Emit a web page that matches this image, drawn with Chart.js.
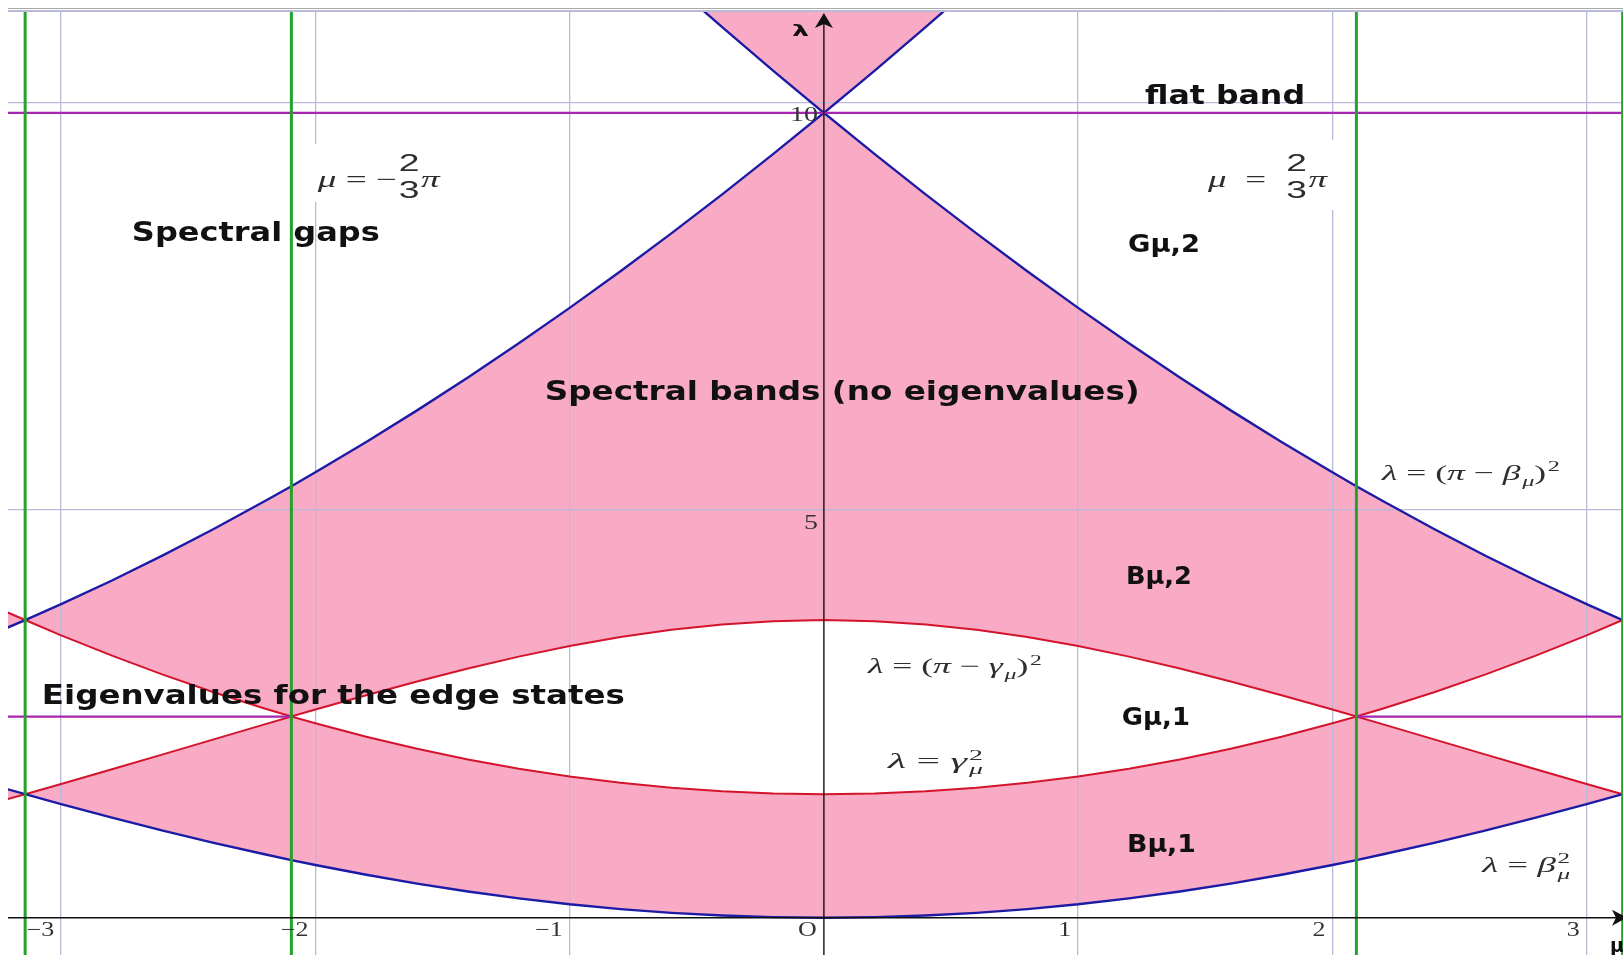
<!DOCTYPE html>
<html>
<head>
<meta charset="utf-8">
<title>Spectral bands and gaps</title>
<script src="https://cdn.jsdelivr.net/npm/chart.js@4.4.1/dist/chart.umd.min.js"></script>
<style>
  html, body { margin: 0; padding: 0; background: #fff; }
  #wrap { position: relative; width: 1623px; height: 955px; }
</style>
</head>
<body>
<div id="wrap"><canvas id="spectrum"></canvas></div>
<script>
// quasi-momentum samples and the band edges read at each of them
var muSamples = [-3.21, -3.1416, -3.0, -2.8, -2.6, -2.4, -2.2, -2.0944, -2.0, -1.8, -1.6, -1.4, -1.2, -1.0, -0.8, -0.6, -0.4, -0.2, 0,
                 0.2, 0.4, 0.6, 0.8, 1.0, 1.2, 1.4, 1.6, 1.8, 2.0, 2.0944, 2.2, 2.4, 2.6, 2.8, 3.0, 3.1416, 3.21];
// lambda = beta_mu^2
var betaSq = [1.575, 1.515, 1.394, 1.227, 1.069, 0.918, 0.778, 0.707, 0.647, 0.527, 0.419, 0.322, 0.238, 0.165, 0.106, 0.060, 0.027, 0.007, 0,
              0.007, 0.027, 0.060, 0.106, 0.165, 0.238, 0.322, 0.419, 0.527, 0.647, 0.707, 0.778, 0.918, 1.069, 1.227, 1.394, 1.515, 1.575];
// lambda = (pi - beta_mu)^2
var piMinusBetaSq = [3.559, 3.650, 3.846, 4.136, 4.443, 4.767, 5.107, 5.292, 5.463, 5.835, 6.222, 6.626, 7.045, 7.479, 7.928, 8.393, 8.871, 9.364, 9.870,
                     9.364, 8.871, 8.393, 7.928, 7.479, 7.045, 6.626, 6.222, 5.835, 5.463, 5.292, 5.107, 4.767, 4.443, 4.136, 3.846, 3.650, 3.559];
// lower / upper edge of the gap G(mu,1) (the two red curves gamma^2 and (pi-gamma)^2)
var gapLow = [1.456, 1.515, 1.640, 1.820, 2.003, 2.187, 2.371, 2.467, 2.384, 2.219, 2.072, 1.941, 1.828, 1.733, 1.654, 1.594, 1.550, 1.524, 1.515,
              1.524, 1.550, 1.594, 1.654, 1.733, 1.828, 1.941, 2.072, 2.219, 2.384, 2.467, 2.371, 2.187, 2.003, 1.820, 1.640, 1.515, 1.456];
var gapHigh = [3.744, 3.651, 3.463, 3.214, 2.981, 2.765, 2.566, 2.467, 2.553, 2.729, 2.898, 3.057, 3.202, 3.332, 3.442, 3.531, 3.597, 3.637, 3.650,
               3.637, 3.597, 3.531, 3.442, 3.332, 3.202, 3.057, 2.898, 2.729, 2.553, 2.467, 2.566, 2.765, 2.981, 3.214, 3.463, 3.651, 3.744];
// next band opening above the flat band: lambda = (pi + beta_mu)^2
var muTop = [-0.6, -0.4, -0.2, 0, 0.2, 0.4, 0.6];
var piPlusBetaSq = [11.466, 10.922, 10.389, 9.870, 10.389, 10.922, 11.466];

var greenMu = [-3.1416, -2.0944, 2.0944, 3.1416];
var flatBandLam = 9.870;
var edgeLam = 2.467;
var edgeMu = [-3.21, -2.0944, 2.0944, 3.21];

var gridMu = [-3, -2, -1, 1, 2, 3];
var gridLam = [5, 10];
var tickMu = [-3, -2, -1, 0, 1, 2, 3];
var tickMuText = ['\u22123', '\u22122', '\u22121', 'O', '1', '2', '3'];
var tickLam = [5, 10];
var tickLamText = ['5', '10'];

var muMin = -3.209, muMax = 3.143, lamMin = -0.457, lamMax = 11.132;

var PINK = '#f9aac5', BLUE = '#1b1ba6', RED = '#d3142c', GREEN = '#25a22d', PURPLE = '#a824b2', GRID = '#b9b9dc';

function pts(xs, ys) {
    return xs.map(function (x, i) { return {x: x, y: ys[i]}; });
}

// bold captions, anchored at (mu, lambda) of their left baseline, w = drawn width in px
var notes = [
    {text: 'flat band', mu: 1.263, lam: 9.979, w: 160, size: 27},
    {text: 'Spectral gaps', mu: -2.722, lam: 8.299, w: 248, size: 27},
    {text: 'G\u03bc,2', mu: 1.196, lam: 8.164, w: 72, size: 25},
    {text: 'Spectral bands (no eigenvalues)', mu: -1.098, lam: 6.349, w: 595, size: 27},
    {text: 'B\u03bc,2', mu: 1.188, lam: 4.093, w: 66, size: 24},
    {text: 'Eigenvalues for the edge states', mu: -3.076, lam: 2.621, w: 583, size: 27},
    {text: 'G\u03bc,1', mu: 1.172, lam: 2.363, w: 68, size: 24},
    {text: 'B\u03bc,1', mu: 1.192, lam: 0.806, w: 69, size: 24}
];

var formulas = [
    {mu: -1.991, lam: 8.961, w: 122, size: 23, box: [-12, -43, 150, 58],
     runs: [{k: 'i', t: '\u03bc'}, {k: 'r', t: ' = \u2212'}, {k: 'frac', num: '2', den: '3'}, {k: 'i', t: '\u03c0'}]},
    {mu: 1.511, lam: 8.961, w: 119, size: 23, box: [-12, -47, 140, 70],
     runs: [{k: 'i', t: '\u03bc'}, {k: 'r', t: '  =  '}, {k: 'frac', num: '2', den: '3'}, {k: 'i', t: '\u03c0'}]},
    {mu: 2.195, lam: 5.368, w: 178, size: 22,
     runs: [{k: 'i', t: '\u03bb'}, {k: 'r', t: ' = ('}, {k: 'i', t: '\u03c0'}, {k: 'r', t: ' \u2212 '}, {k: 'i', t: '\u03b2'},
            {k: 'sub', t: '\u03bc'}, {k: 'r', t: ')'}, {k: 'sup', t: '2'}]},
    {mu: 0.173, lam: 3.001, w: 174, size: 21,
     runs: [{k: 'i', t: '\u03bb'}, {k: 'r', t: ' = ('}, {k: 'i', t: '\u03c0'}, {k: 'r', t: ' \u2212 '}, {k: 'i', t: '\u03b3'},
            {k: 'sub', t: '\u03bc'}, {k: 'r', t: ')'}, {k: 'sup', t: '2'}]},
    {mu: 0.252, lam: 1.836, w: 95, size: 21,
     runs: [{k: 'i', t: '\u03bb'}, {k: 'r', t: ' = '}, {k: 'i', t: '\u03b3'}, {k: 'subsup', sub: '\u03bc', sup: '2'}]},
    {mu: 2.589, lam: 0.561, w: 88, size: 22,
     runs: [{k: 'i', t: '\u03bb'}, {k: 'r', t: ' = '}, {k: 'i', t: '\u03b2'}, {k: 'subsup', sub: '\u03bc', sup: '2'}]}
];

function stretchText(ctx, text, x, y, w) {
    var nat = ctx.measureText(text).width;
    ctx.save();
    ctx.translate(x, y);
    ctx.scale(w / nat, 1);
    ctx.fillText(text, 0, 0);
    ctx.restore();
}

function drawFormula(ctx, runs, x, y, w, size) {
    var small = Math.round(size * 0.68);
    var fonts = {
        i: 'italic ' + size + 'px "Liberation Serif"',
        r: size + 'px "Liberation Serif"',
        si: 'italic ' + small + 'px "Liberation Serif"',
        sr: small + 'px "Liberation Serif"',
        f: size + 'px "Liberation Sans"'
    };
    function width(r) {
        if (r.k === 'frac') {
            ctx.font = fonts.f;
            return Math.max(ctx.measureText(r.num).width, ctx.measureText(r.den).width) + 2;
        }
        if (r.k === 'sub') { ctx.font = fonts.si; return ctx.measureText(r.t).width + 1; }
        if (r.k === 'sup') { ctx.font = fonts.sr; return ctx.measureText(r.t).width + 1; }
        if (r.k === 'subsup') {
            ctx.font = fonts.si;
            var a = ctx.measureText(r.sub).width;
            ctx.font = fonts.sr;
            return Math.max(a, ctx.measureText(r.sup).width) + 1;
        }
        ctx.font = fonts[r.k];
        return ctx.measureText(r.t).width;
    }
    var total = 0;
    runs.forEach(function (r) { total += width(r); });
    ctx.save();
    ctx.translate(x, y);
    ctx.scale(w / total, 1);
    var cx = 0;
    runs.forEach(function (r) {
        var rw = width(r);
        if (r.k === 'frac') {
            ctx.font = fonts.f;
            ctx.textAlign = 'center';
            ctx.fillText(r.num, cx + rw / 2, -size * 0.7);
            ctx.fillText(r.den, cx + rw / 2, size * 0.46);
            ctx.textAlign = 'left';
        } else if (r.k === 'sub') {
            ctx.font = fonts.si;
            ctx.fillText(r.t, cx + 1, size * 0.28);
        } else if (r.k === 'sup') {
            ctx.font = fonts.sr;
            ctx.fillText(r.t, cx + 1, -size * 0.4);
        } else if (r.k === 'subsup') {
            ctx.font = fonts.sr;
            ctx.fillText(r.sup, cx + 1, -size * 0.4);
            ctx.font = fonts.si;
            ctx.fillText(r.sub, cx + 1, size * 0.3);
        } else {
            ctx.font = fonts[r.k];
            ctx.fillText(r.t, cx, 0);
        }
        cx += rw;
    });
    ctx.restore();
}

// axes, tick labels, captions
var decor = {
    id: 'decor',
    afterDatasetsDraw: function (chart) {
        var ctx = chart.ctx, a = chart.chartArea;
        var xs = chart.scales.x, ys = chart.scales.y;
        var X = function (v) { return xs.getPixelForValue(v); };
        var Y = function (v) { return ys.getPixelForValue(v); };
        var x0 = X(0), y0 = Y(0);

        ctx.save();
        ctx.textBaseline = 'alphabetic';

        // frame along the top
        ctx.strokeStyle = '#a8a8a8';
        ctx.lineWidth = 1;
        ctx.beginPath();
        ctx.moveTo(a.left, a.top - 1.5);
        ctx.lineTo(a.right, a.top - 1.5);
        ctx.stroke();
        ctx.strokeStyle = GRID;
        ctx.lineWidth = 2;
        ctx.beginPath();
        ctx.moveTo(a.left, a.top + 1);
        ctx.lineTo(a.right, a.top + 1);
        ctx.stroke();

        // axes with arrows
        ctx.strokeStyle = '#111';
        ctx.fillStyle = '#111';
        ctx.lineWidth = 1.4;
        ctx.beginPath();
        ctx.moveTo(a.left, y0);
        ctx.lineTo(a.right, y0);
        ctx.moveTo(x0, a.bottom);
        ctx.lineTo(x0, a.top + 10);
        ctx.stroke();
        ctx.beginPath();
        ctx.moveTo(x0, a.top + 3);
        ctx.lineTo(x0 - 9, a.top + 18);
        ctx.lineTo(x0, a.top + 14);
        ctx.lineTo(x0 + 9, a.top + 18);
        ctx.closePath();
        ctx.fill();
        var tip = a.right + 4;
        ctx.beginPath();
        ctx.moveTo(tip, y0);
        ctx.lineTo(tip - 15, y0 - 8);
        ctx.lineTo(tip - 11, y0);
        ctx.lineTo(tip - 15, y0 + 8);
        ctx.closePath();
        ctx.fill();

        ctx.font = 'bold 16px "DejaVu Sans"';
        stretchText(ctx, '\u03bb', x0 - 32, a.top + 26, 17);
        ctx.font = 'bold 19px "DejaVu Sans"';
        ctx.fillText('\u03bc', a.right - 13, a.bottom - 3);

        // tick labels
        ctx.fillStyle = '#333';
        ctx.font = '20px "Liberation Serif"';
        tickMu.forEach(function (v, i) {
            var t = tickMuText[i];
            var tw = ctx.measureText(t).width * 1.3;
            stretchText(ctx, t, X(v) - 7 - tw, y0 + 18, tw);
        });
        tickLam.forEach(function (v, i) {
            var t = tickLamText[i];
            var tw = ctx.measureText(t).width * 1.4;
            stretchText(ctx, t, x0 - 6 - tw, Y(v) + 19, tw);
        });

        // formulas
        formulas.forEach(function (f) {
            var px = X(f.mu), py = Y(f.lam);
            if (f.box) {
                ctx.fillStyle = '#fff';
                ctx.fillRect(px + f.box[0], py + f.box[1], f.box[2], f.box[3]);
            }
            ctx.fillStyle = '#2e2e2e';
            drawFormula(ctx, f.runs, px, py, f.w, f.size);
        });

        // captions
        ctx.fillStyle = '#111';
        notes.forEach(function (n) {
            ctx.font = 'bold ' + n.size + 'px "DejaVu Sans"';
            stretchText(ctx, n.text, X(n.mu), Y(n.lam), n.w);
        });
        ctx.restore();
    }
};

var datasets = [
    // band above the flat band
    {data: pts(muTop, piPlusBetaSq), borderColor: BLUE, borderWidth: 2.4, fill: 'end', backgroundColor: PINK, order: 2},
    {data: pts(muSamples, betaSq), borderColor: BLUE, borderWidth: 2.4, fill: false, order: 2},
    {data: pts(muSamples, piMinusBetaSq), borderColor: BLUE, borderWidth: 2.4, fill: false, order: 2},
    // band B(mu,1): between beta^2 and the lower red curve
    {data: pts(muSamples, gapLow), borderColor: RED, borderWidth: 2, fill: '-2', backgroundColor: PINK, order: 3},
    // band B(mu,2): between the upper red curve and (pi - beta)^2
    {data: pts(muSamples, gapHigh), borderColor: RED, borderWidth: 2, fill: '-2', backgroundColor: PINK, order: 3},
    {data: [{x: muMin, y: flatBandLam}, {x: muMax, y: flatBandLam}], borderColor: PURPLE, borderWidth: 2.2, fill: false, order: 1},
    {data: [{x: edgeMu[0], y: edgeLam}, {x: edgeMu[1], y: edgeLam}, {x: 0, y: null}, {x: edgeMu[2], y: edgeLam}, {x: edgeMu[3], y: edgeLam}],
     borderColor: PURPLE, borderWidth: 2.2, fill: false, spanGaps: false, order: 1}
];
greenMu.forEach(function (m) {
    datasets.push({data: [{x: m, y: lamMin - 1}, {x: m, y: lamMax + 1}], borderColor: GREEN, borderWidth: 3, fill: false, order: 0});
});

new Chart(document.getElementById('spectrum'), {
    type: 'line',
    data: {datasets: datasets},
    options: {
        responsive: true,
        maintainAspectRatio: false,
        animation: false,
        layout: {padding: {left: 8, top: 10, right: 0, bottom: 0}},
        elements: {point: {radius: 0, hoverRadius: 0}, line: {tension: 0}},
        plugins: {
            legend: {display: false},
            tooltip: {enabled: false},
            filler: {drawTime: 'beforeDraw'}
        },
        scales: {
            x: {
                type: 'linear', min: muMin, max: muMax,
                ticks: {display: false},
                border: {display: false},
                grid: {color: GRID, lineWidth: 1.3, drawTicks: false},
                afterBuildTicks: function (s) { s.ticks = gridMu.map(function (v) { return {value: v}; }); },
                afterFit: function (s) { s.height = 0; }
            },
            y: {
                type: 'linear', min: lamMin, max: lamMax,
                ticks: {display: false},
                border: {display: false},
                grid: {color: GRID, lineWidth: 1.3, drawTicks: false},
                afterBuildTicks: function (s) { s.ticks = gridLam.map(function (v) { return {value: v}; }); },
                afterFit: function (s) { s.width = 0; }
            }
        }
    },
    plugins: [decor]
});
</script>
</body>
</html>
